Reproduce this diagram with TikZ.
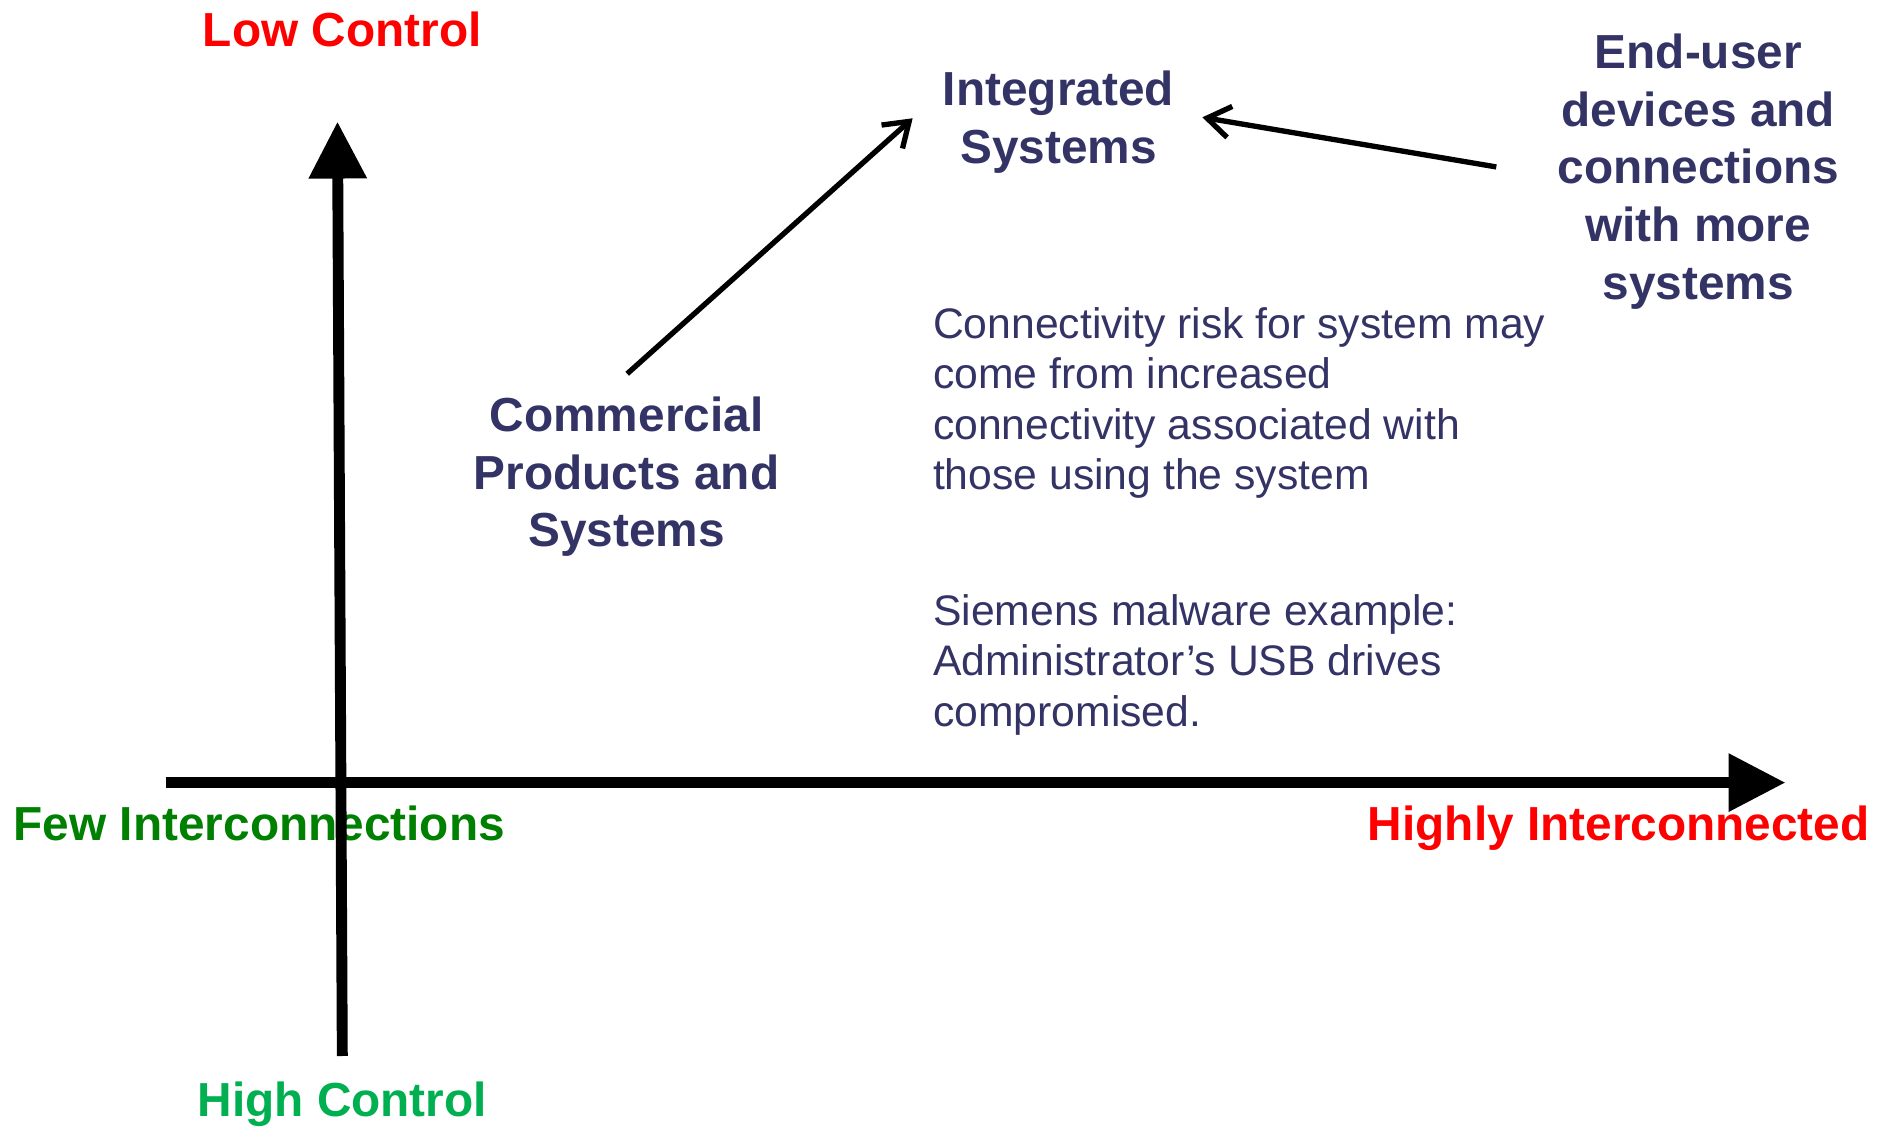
\documentclass[tikz,border=0pt]{standalone}
\usepackage{fontspec}
\setmainfont{Liberation Sans}
\usetikzlibrary{arrows.meta,calc}
\definecolor{navy}{HTML}{333366}
\definecolor{redc}{HTML}{FF0000}
\definecolor{fewgreen}{HTML}{008000}
\definecolor{highgreen}{HTML}{00B050}
\begin{document}
\begin{tikzpicture}[x=0.5pt,y=-0.5pt,
  boldlbl/.style={font=\fontsize{19.75}{23.9}\selectfont\bfseries, inner sep=0pt, anchor=base},
  normlbl/.style={font=\fontsize{17.65}{20.9}\selectfont, inner sep=0pt, anchor=base west, text=navy},
  axisarrow/.style={line width=4.5pt, -{Triangle[length=23.5pt,width=23pt]}},
  connarrow/.style={line width=2.2pt, -{Straight Barb[length=9.5pt,width=13pt]}}]
\useasboundingbox (0,0) rectangle (1560,931);
% axis labels
\node[boldlbl, text=redc] (low) at (283,38.6) {Low Control};
\node[boldlbl, text=highgreen] (high) at (283,923) {High Control};
\node[boldlbl, text=fewgreen, anchor=base west] (few) at (11,695) {Few Interconnections};
\node[boldlbl, text=redc, anchor=base east] (highly) at (1546,695) {Highly Interconnected};
% bold blue labels
\node[boldlbl, text=navy] (integ) at (875,87.6) {\begin{tabular}[t]{@{}c@{}}Integrated\\Systems\end{tabular}};
\node[boldlbl, text=navy] (enduser) at (1404,56.5) {\begin{tabular}[t]{@{}c@{}}End-user\\devices and\\connections\\with more\\systems\end{tabular}};
\node[boldlbl, text=navy] (comm) at (518,356.5) {\begin{tabular}[t]{@{}c@{}}Commercial\\Products and\\Systems\end{tabular}};
% paragraphs
\node[normlbl] (risk) at (771,279.5) {\begin{tabular}[t]{@{}l@{}}Connectivity risk for system may\\come from increased\\connectivity associated with\\those using the system\end{tabular}};
\node[normlbl] (siem) at (771,517) {\begin{tabular}[t]{@{}l@{}}Siemens malware example:\\Administrator’s USB drives\\compromised.\end{tabular}};
% connectors
\draw[connarrow] ($(comm.base)+(0.5,-47.5)$) -- ($(integ.base)+(-120.5,10.2)$);
\draw[connarrow] ($(enduser.base)+(-167,81.5)$) -- ($(integ.base)+(119,9.4)$);
% axes
\coordinate (vbot) at (283,873);
\coordinate (vtop) at (279,100.6);
\coordinate (hleft) at (137,647);
\coordinate (hright) at (1476,647);
\draw[axisarrow] (vbot) -- (vtop);
\draw[axisarrow] (hleft) -- (hright);
\end{tikzpicture}
\end{document}
